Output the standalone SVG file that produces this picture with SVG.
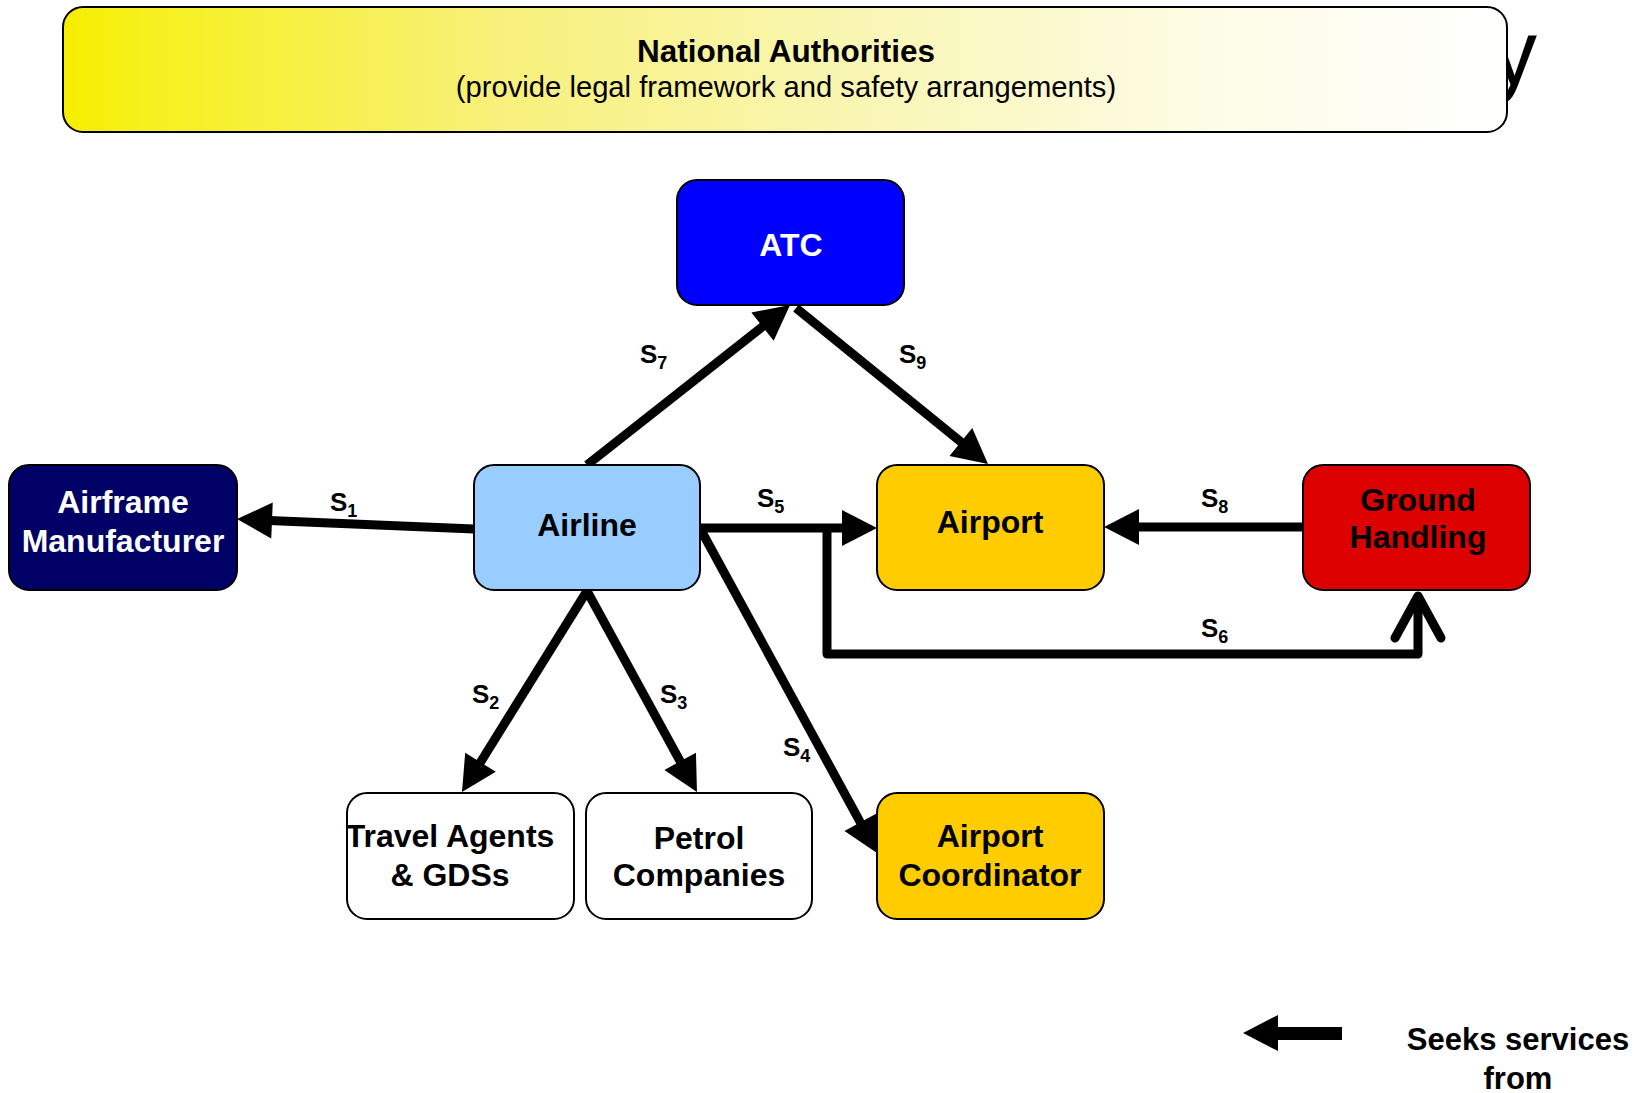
<svg xmlns="http://www.w3.org/2000/svg" width="1641" height="1093" viewBox="0 0 1641 1093">
<defs>
<linearGradient id="auth" x1="0" y1="0" x2="1" y2="0">
<stop offset="0" stop-color="#f5ee00"/>
<stop offset="0.06" stop-color="#f6f01e"/>
<stop offset="0.3" stop-color="#f7f07a"/>
<stop offset="0.55" stop-color="#f9f6b4"/>
<stop offset="0.8" stop-color="#fdfce6"/>
<stop offset="1" stop-color="#ffffff"/>
</linearGradient>
<marker id="ah" markerUnits="userSpaceOnUse" markerWidth="40" markerHeight="40" refX="0" refY="18" orient="auto" viewBox="-3 0 40 36" overflow="visible">
<path d="M-3,0 L32,18 L-3,36 Z" fill="#000"/>
</marker>
<style>
.box{stroke:#000;stroke-width:2}
.nt{font-family:"Liberation Sans",Arial,sans-serif;font-weight:bold;font-size:32px;text-anchor:middle}
.conn{fill:none;stroke:#000;stroke-width:9}
.lbl{font-family:"Liberation Sans",Arial,sans-serif;font-weight:bold;font-size:26px;fill:#000}
.sub{font-size:18px}
</style>
</defs>
<rect width="1641" height="1093" fill="#fff"/>
<text x="1491" y="85" font-family="Liberation Sans, Arial, sans-serif" font-size="92" fill="#000">y</text>
<g id="national-authorities">
<rect class="box" x="63" y="7" width="1444" height="125" rx="20" ry="20" fill="url(#auth)"/>
<text x="786" y="62" font-family="Liberation Sans, Arial, sans-serif" font-weight="bold" font-size="31.5" text-anchor="middle">National Authorities</text>
<text x="786" y="97" font-family="Liberation Sans, Arial, sans-serif" font-size="29.2" text-anchor="middle">(provide legal framework and safety arrangements)</text>
</g>
<g id="connectors">
<line class="conn" x1="474" y1="529" x2="269" y2="520.4" marker-end="url(#ah)"/>
<line class="conn" x1="587" y1="465" x2="764.9" y2="324.8" marker-end="url(#ah)"/>
<line class="conn" x1="796" y1="308" x2="963.2" y2="443.8" marker-end="url(#ah)"/>
<line class="conn" x1="700" y1="528" x2="845" y2="528" marker-end="url(#ah)"/>
<line class="conn" x1="1303" y1="527" x2="1136" y2="527" marker-end="url(#ah)"/>
<line class="conn" x1="587" y1="591" x2="478.9" y2="764.8" marker-end="url(#ah)"/>
<line class="conn" x1="587" y1="591" x2="681.6" y2="763.9" marker-end="url(#ah)"/>
<line class="conn" x1="702" y1="532" x2="861.7" y2="824.9" marker-end="url(#ah)"/>
<polyline class="conn" points="827,528 827,654 1418,654 1418,597" stroke-linejoin="round"/>
<polyline class="conn" points="1395,638 1418,596 1441,638" stroke-linecap="round" stroke-linejoin="round"/>
<text class="lbl" x="330" y="511">S<tspan class="sub" dy="6">1</tspan></text>
<text class="lbl" x="640" y="363">S<tspan class="sub" dy="6">7</tspan></text>
<text class="lbl" x="899" y="363">S<tspan class="sub" dy="6">9</tspan></text>
<text class="lbl" x="757" y="507">S<tspan class="sub" dy="6">5</tspan></text>
<text class="lbl" x="1201" y="507">S<tspan class="sub" dy="6">8</tspan></text>
<text class="lbl" x="1201" y="637">S<tspan class="sub" dy="6">6</tspan></text>
<text class="lbl" x="472" y="703">S<tspan class="sub" dy="6">2</tspan></text>
<text class="lbl" x="660" y="703">S<tspan class="sub" dy="6">3</tspan></text>
<text class="lbl" x="783" y="756">S<tspan class="sub" dy="6">4</tspan></text>
</g>
<g id="atc">
<rect class="box" x="677" y="180" width="227" height="125" rx="20" fill="#0000ff"/>
<text class="nt" x="791" y="256" fill="#fff">ATC</text>
</g>
<g id="airframe-manufacturer">
<rect class="box" x="9" y="465" width="228" height="125" rx="20" fill="#000066"/>
<text class="nt" x="123" y="513" fill="#fff">Airframe</text>
<text class="nt" x="123" y="552" fill="#fff">Manufacturer</text>
</g>
<g id="airline">
<rect class="box" x="474" y="465" width="226" height="125" rx="20" fill="#99ccff"/>
<text class="nt" x="587" y="536">Airline</text>
</g>
<g id="airport">
<rect class="box" x="877" y="465" width="227" height="125" rx="20" fill="#ffcc00"/>
<text class="nt" x="990" y="533">Airport</text>
</g>
<g id="ground-handling">
<rect class="box" x="1303" y="465" width="227" height="125" rx="20" fill="#dd0000"/>
<text class="nt" x="1418" y="511">Ground</text>
<text class="nt" x="1418" y="548">Handling</text>
</g>
<g id="travel-agents">
<rect class="box" x="347" y="793" width="227" height="126" rx="20" fill="#fff"/>
<text class="nt" x="450" y="847">Travel Agents</text>
<text class="nt" x="450" y="886">&amp; GDSs</text>
</g>
<g id="petrol-companies">
<rect class="box" x="586" y="793" width="226" height="126" rx="20" fill="#fff"/>
<text class="nt" x="699" y="849">Petrol</text>
<text class="nt" x="699" y="886">Companies</text>
</g>
<g id="airport-coordinator">
<rect class="box" x="877" y="793" width="227" height="126" rx="20" fill="#ffcc00"/>
<text class="nt" x="990" y="847">Airport</text>
<text class="nt" x="990" y="886">Coordinator</text>
</g>
<g id="legend">
<rect x="1275" y="1027" width="67" height="13" fill="#000"/>
<polygon points="1243,1033 1278,1015 1278,1051" fill="#000"/>
<text class="nt" x="1518" y="1050" style="font-size:31px">Seeks services</text>
<text class="nt" x="1518" y="1089" style="font-size:31px">from</text>
</g>
</svg>
